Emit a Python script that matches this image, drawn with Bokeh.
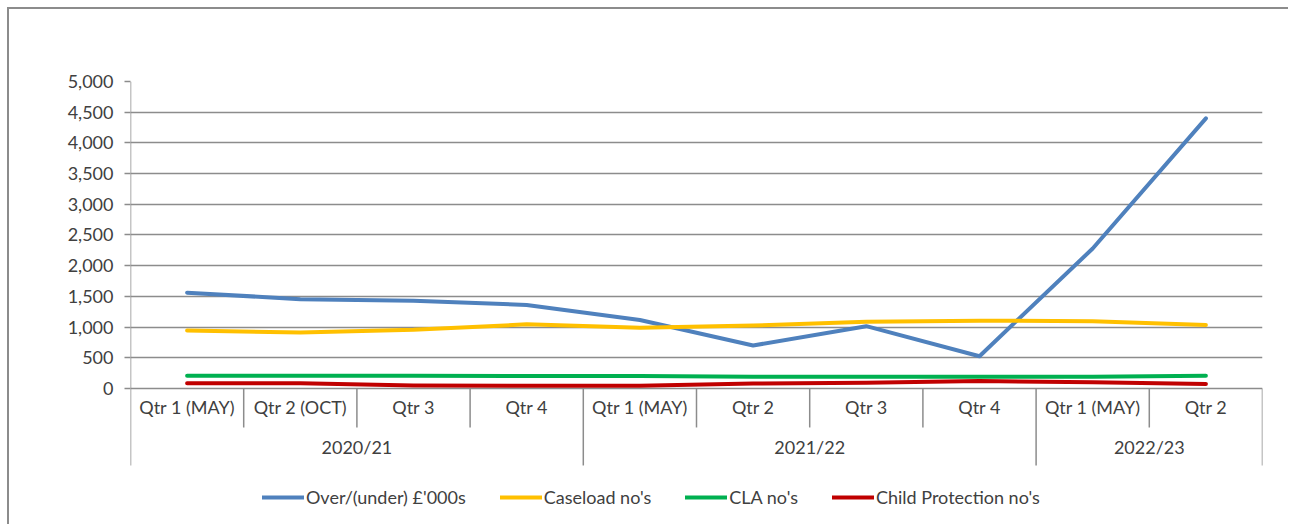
from bokeh.plotting import figure
from bokeh.models import FactorRange, Range1d, FixedTicker, NumeralTickFormatter, Legend, LegendItem
from bokeh.core.properties import value
from bokeh.embed import file_html
from bokeh.resources import INLINE

# ---- data ----
years = ["2020/21", "2020/21", "2020/21", "2020/21",
         "2021/22", "2021/22", "2021/22", "2021/22",
         "2022/23", "2022/23"]
quarters = ["Qtr 1 (MAY)", "Qtr 2 (OCT)", "Qtr 3", "Qtr 4",
            "Qtr 1 (MAY)", "Qtr 2", "Qtr 3", "Qtr 4",
            "Qtr 1 (MAY)", "Qtr 2"]
over_under = [1560, 1455, 1430, 1360, 1115, 700, 1015, 525, 2280, 4400]
caseload = [945, 910, 955, 1045, 990, 1025, 1085, 1105, 1095, 1035]
cla = [208, 207, 206, 205, 204, 192, 190, 190, 193, 207]
child_protection = [85, 85, 48, 45, 45, 82, 92, 122, 100, 75]
y_ticks = [0, 500, 1000, 1500, 2000, 2500, 3000, 3500, 4000, 4500, 5000]

series_names = ["Over/(under) £'000s", "Caseload no's", "CLA no's", "Child Protection no's"]
series_values = [over_under, caseload, cla, child_protection]
series_colors = ["#4F81BD", "#FFC000", "#00B050", "#C00000"]

factors = list(zip(years, quarters))
group_names = []
for y in years:
    if y not in group_names:
        group_names.append(y)

FONT = "Lato"
FS = "18px"
TXT = "#404040"
GRID = "#8c8c8c"
Y_BOTTOM = -2248      # bottom of the frame (legend area)
TABLE_BOTTOM = -1254  # bottom of the category table
ROW_SPLIT = -635      # end of the quarter separators
Q_LABEL_Y = -309
G_LABEL_Y = -945

p = figure(width=1281, height=517,
           x_range=FactorRange(*factors, group_padding=0, factor_padding=0, subgroup_padding=0, range_padding=0),
           y_range=Range1d(Y_BOTTOM, 5000),
           x_axis_location=None,
           output_backend="svg", toolbar_location=None,
           min_border_left=121, min_border_right=28, min_border_top=72, min_border_bottom=0)
p.styles = {"margin-left": "9px", "margin-top": "9px",
            "box-shadow": "-2px -2px 0 0 #8c8c8c"}
p.outline_line_color = None
p.xgrid.visible = False
p.ygrid.ticker = FixedTicker(ticks=y_ticks)
p.ygrid.grid_line_color = GRID
p.ygrid.grid_line_width = 1.5

ya = p.yaxis[0]
ya.ticker = FixedTicker(ticks=y_ticks)
ya.formatter = NumeralTickFormatter(format="0,0")
ya.axis_line_color = None
ya.major_tick_line_color = GRID
ya.major_tick_line_width = 1.5
ya.major_tick_out = 6
ya.major_tick_in = 0
ya.minor_tick_line_color = None
ya.major_label_standoff = 11
ya.major_label_text_font = FONT
ya.major_label_text_font_size = FS
ya.major_label_text_color = TXT

# category table below the zero line
n = len(factors)
group_bounds = [0]
for g in group_names:
    group_bounds.append(group_bounds[-1] + years.count(g))
inner = [i for i in range(1, n) if i not in group_bounds]
p.segment(x0=inner, y0=[0] * len(inner), x1=inner, y1=[ROW_SPLIT] * len(inner),
          line_color=GRID, line_width=1.5)
p.segment(x0=[0], y0=[y_ticks[-1]], x1=[0], y1=[TABLE_BOTTOM], line_color=GRID, line_width=1.5)
outer = [b for b in group_bounds if b > 0]
p.segment(x0=outer, y0=[0] * len(outer), x1=outer, y1=[TABLE_BOTTOM] * len(outer),
          line_color=GRID, line_width=1.5)

p.text(x=factors, y=[Q_LABEL_Y] * n, text=quarters, text_align="center", text_baseline="middle",
       text_font=value(FONT), text_font_size=FS, text_color=TXT)
p.text(x=group_names, y=[G_LABEL_Y] * len(group_names), text=group_names, text_align="center",
       text_baseline="middle", text_font=value(FONT), text_font_size=FS, text_color=TXT)

items = []
for name, vals, col in zip(series_names, series_values, series_colors):
    r = p.line(x=factors, y=vals, line_color=col, line_width=4, line_cap="round", line_join="round")
    items.append(LegendItem(label=name, renderers=[r]))

legend = Legend(items=items, orientation="horizontal", location=(132, 18),
                glyph_width=42, glyph_height=20, label_standoff=2, spacing=34,
                padding=0, margin=0, border_line_color=None, background_fill_alpha=0,
                label_text_font=FONT, label_text_font_size=FS, label_text_color=TXT)
p.add_layout(legend, "center")

open("out.html", "w").write(file_html(p, INLINE))
